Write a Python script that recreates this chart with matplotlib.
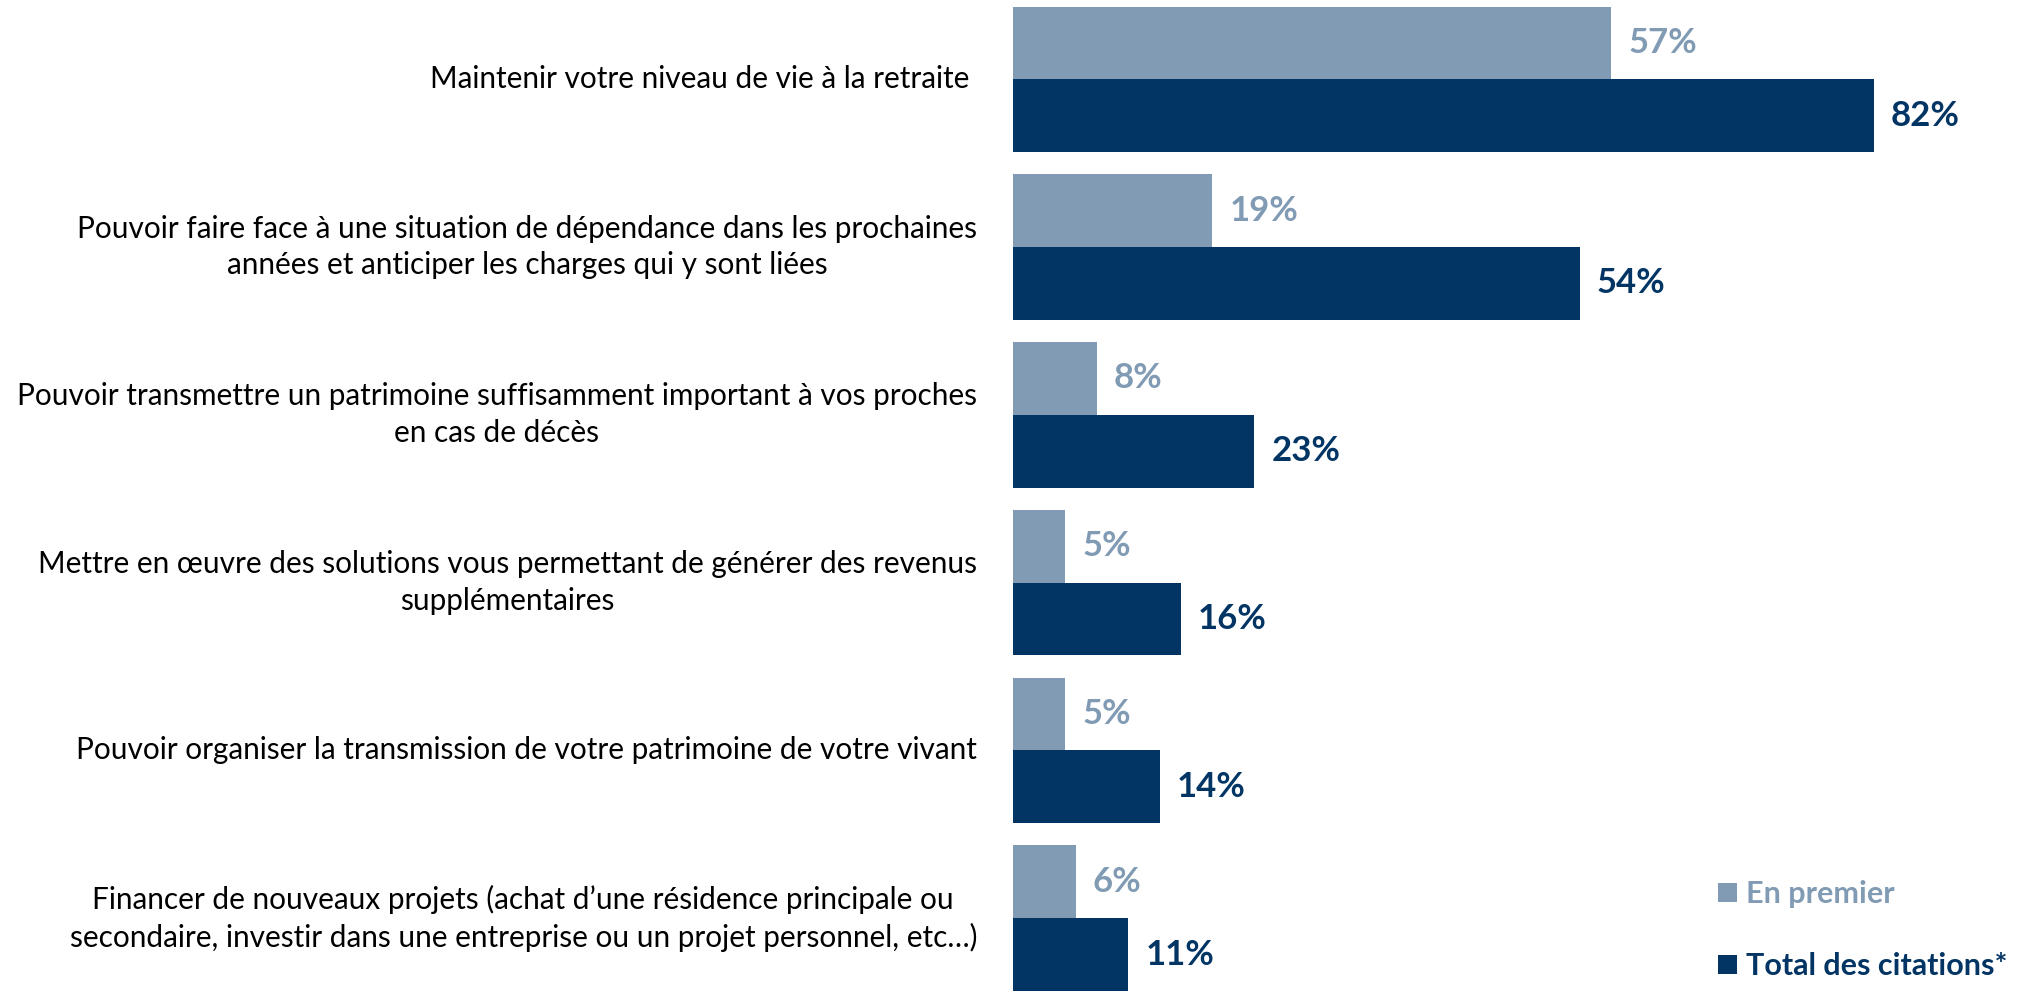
import matplotlib
matplotlib.use("Agg")
import matplotlib.pyplot as plt
import numpy as np

# Data
categories = [
    "Maintenir votre niveau de vie à la retraite ",
    "Pouvoir faire face à une situation de dépendance dans les prochaines\nannées et anticiper les charges qui y sont liées",
    "Pouvoir transmettre un patrimoine suffisamment important à vos proches\nen cas de décès",
    "Mettre en œuvre des solutions vous permettant de générer des revenus\nsupplémentaires",
    "Pouvoir organiser la transmission de votre patrimoine de votre vivant",
    "Financer de nouveaux projets (achat d\u2019une résidence principale ou\nsecondaire, investir dans une entreprise ou un projet personnel, etc\u2026)",
]
en_premier = [57, 19, 8, 5, 5, 6]
total_citations = [82, 54, 23, 16, 14, 11]
series_names = ["En premier", "Total des citations*"]

light = "#809BB3"
dark = "#023564"

plt.rcParams["font.family"] = ["Lato", "DejaVu Sans"]

fig = plt.figure(figsize=(20.24, 9.91), dpi=100)
ax = fig.add_axes([1013 / 2024, 0, 1 - 1013 / 2024, 1])

y = np.arange(len(categories))
h = 0.4335
b1 = ax.barh(y - h / 2, en_premier, height=h, color=light, label=series_names[0])
b2 = ax.barh(y + h / 2, total_citations, height=h, color=dark, label=series_names[1])

ax.set_xlim(0, 96.3)
ax.set_ylim(5.434, -0.4725)
ax.axis("off")

# value labels
for bars, vals, col in [(b1, en_premier, light), (b2, total_citations, dark)]:
    for rect, v in zip(bars, vals):
        ax.annotate(f"{v}%", (v, rect.get_y() + rect.get_height() / 2),
                    xytext=(17, 0), textcoords="offset pixels",
                    ha="left", va="center", fontsize=25, fontweight="bold", color=col)

# category labels, centred lines, right edge near 977 px
for i, cat in enumerate(categories):
    ax.annotate(cat, (0, i), xytext=(-36, 0), textcoords="offset pixels",
                ha="right", va="center", multialignment="center",
                fontsize=21.4, color="black", linespacing=1.38)

leg = ax.legend(handles=[b1, b2], loc="lower left", bbox_to_anchor=(1691 / 2024, -0.017),
                bbox_transform=fig.transFigure, frameon=False,
                prop={"size": 22, "weight": "bold"},
                handlelength=0.6, handleheight=0.6, handletextpad=0.3,
                labelspacing=1.45)
for txt, col in zip(leg.get_texts(), [light, dark]):
    txt.set_color(col)

fig.savefig("out.png", dpi=100)
